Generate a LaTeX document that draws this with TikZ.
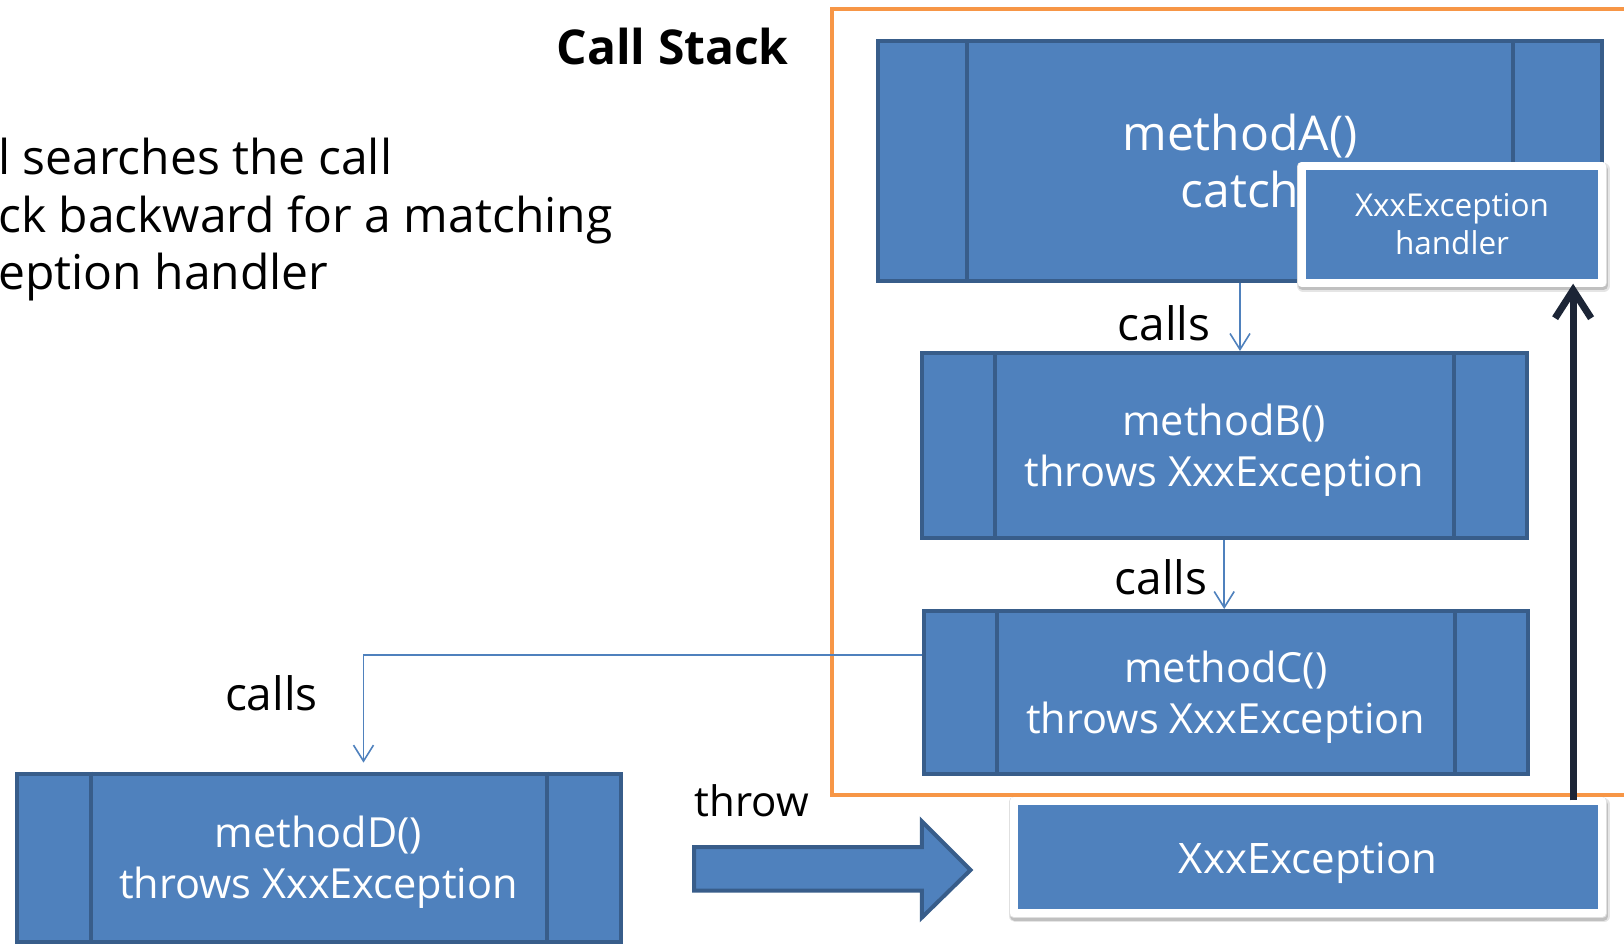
\documentclass[tikz,border=0pt]{standalone}
\usepackage{fontspec}
\setmainfont{Open Sans}
\usetikzlibrary{arrows.meta}
\definecolor{boxfill}{HTML}{4F81BD}
\definecolor{boxedge}{HTML}{385D8A}
\definecolor{stackframe}{HTML}{F79646}
\definecolor{unwind}{HTML}{1C2536}
\newcommand{\fsz}[2]{\fontsize{#1}{#2}\selectfont}
% invisible strut that lowers a centred text block by half of (#1 - first line height)
\newcommand{\droptext}[1]{\rule{0pt}{#1}}
% two vertical bars inside a method frame, #2 in from each side
\newcommand{\framebars}[2]{%
  \draw[divider] ([xshift=#2]#1.north west) -- ([xshift=#2]#1.south west);
  \draw[divider] ([xshift=-#2]#1.north east) -- ([xshift=-#2]#1.south east);}
\begin{document}
\begin{tikzpicture}[x=1pt, y=-1pt,
  method/.style={draw=boxedge, fill=boxfill, line width=4pt, inner sep=0pt,
    text=white, align=center, font=\fsz{41.5}{51}},
  softshadow/.style={preaction={draw=black, draw opacity=#1, fill opacity=0,
    line width=10pt, line join=round, transform canvas={xshift=1.5pt, yshift=-3.5pt}}},
  framed/.style={draw=white, fill=boxfill, line width=8pt, line join=round,
    inner sep=0pt, text=white, align=center,
    preaction={draw=black, draw opacity=0.10, line width=12pt, line join=round,
      transform canvas={xshift=1.5pt, yshift=-3pt}},
    preaction={draw=black, draw opacity=0.16, line width=9pt, line join=round,
      transform canvas={xshift=1pt, yshift=-3pt}},
    preaction={draw=black!12, line width=9.5pt}},
  divider/.style={draw=boxedge, line width=4pt},
  lbl/.style={inner sep=0pt, font=\fsz{46}{55}},
  callarrow/.style={draw=boxfill, line width=1.6pt, -{Straight Barb[length=16pt, width=20pt]}},
  backarrow/.style={draw=unwind, line width=7pt, -{Straight Barb[length=28pt, width=36pt]}},
]
\useasboundingbox (0,0) rectangle (1624,943);
\clip (0,0) rectangle (1624,943);

% call stack frame
\draw[stackframe, line width=4pt] (831.7,9.3) rectangle (1660,795.4);

% stack frames
\node[method, minimum width=724pt, minimum height=240pt, font=\fsz{48}{57}] (A) at (1240,161) {methodA()\\catch};
\framebars{A}{91pt}
\node[method, minimum width=605pt, minimum height=185pt] (B) at (1224.2,445.5) {\droptext{40pt}methodB()\\throws XxxException};
\framebars{B}{75pt}
\node[method, minimum width=604pt, minimum height=163pt] (C) at (1225.75,692.5) {\droptext{40pt}methodC()\\throws XxxException};
\framebars{C}{75pt}
\node[method, minimum width=604pt, minimum height=168.4pt] (D) at (318.5,857.8) {\droptext{40pt}methodD()\\throws XxxException};
\framebars{D}{76pt}

% handler and exception object
\node[framed, minimum width=300.7pt, minimum height=116.4pt, font=\fsz{31.5}{38}] (H) at (1452,224.5) {XxxException\\handler};
\node[framed, minimum width=588.6pt, minimum height=112pt, font=\fsz{42}{50}] (E) at (1308.1,857.3) {\droptext{42pt}XxxException};

% throw block arrow
\filldraw[fill=boxfill, draw=boxedge, line width=4pt, line join=miter]
  (694,847.2) -- (921.8,847.2) -- (921.8,821.3) -- (970.5,870) -- (921.8,917.6)
  -- (921.8,890.7) -- (694,890.7) -- cycle;

% labels
\node[lbl, anchor=east, font=\fsz{48}{57}\bfseries] (title) at (789,46.6) {Call Stack};
\node[lbl, anchor=west, align=left, font=\fsz{48}{57.5}] (note) at (-2,220)
  {l searches the call\\ck backward for a matching\\eption handler};
\node[lbl] (c1) at (1164,323) {calls};
\node[lbl] (c2) at (1161,577) {calls};
\node[lbl] (c3) at (271.4,692.9) {calls};
\node[lbl, font=\fsz{42}{50}] (th) at (752,800.6) {throw};

% calls
\draw[callarrow] (A.south) -- (A.south |- B.north);
\draw[callarrow] (B.south) -- (B.south |- C.north);
\coordinate (dIn) at ([xshift=45pt]D.north);
\draw[callarrow, shorten >=9pt] ([yshift=37.5pt]C.west) -| (dIn);

% search back up the stack
\coordinate (up) at ([xshift=265pt]E.north);
\draw[backarrow, shorten >=-3pt, shorten <=-3pt] (up) -- (up |- H.south);
\end{tikzpicture}
\end{document}
